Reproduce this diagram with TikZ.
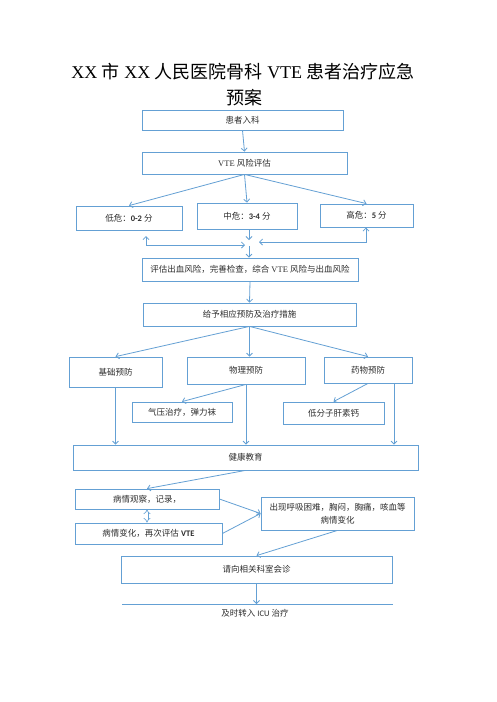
\documentclass[tikz,border=0pt]{standalone}
\usepackage{fontspec}
\setmainfont{Liberation Serif}
\newfontfamily\cjk{Noto Sans CJK SC}
\newfontfamily\calf{Carlito}
\usetikzlibrary{arrows.meta}
\definecolor{ln}{RGB}{100,160,212}
\definecolor{tx}{RGB}{45,45,45}
\newcommand\zh[1]{{\cjk #1}}
\newcommand\sn[1]{{\calf\bfseries #1}}
\newcommand\sr[1]{{\calf #1}}
\begin{document}
\begin{tikzpicture}[x=1pt,y=-1pt,
  box/.style={draw=ln, line width=0.8pt, rectangle, inner sep=0pt, align=center,
    text=tx, font=\fontsize{8.5}{11}\selectfont},
  wh/.style 2 args={minimum width=#1pt, minimum height=#2pt},
  arr/.style={draw=ln, line width=0.8pt, -{Straight Barb[length=3pt,width=6pt]}},
  darr/.style={draw=ln, line width=0.8pt, {Straight Barb[length=3pt,width=6pt]}-{Straight Barb[length=3pt,width=6pt]}},
  ttl/.style={font=\fontsize{18}{22}\selectfont, text=black, inner sep=0pt}]
\useasboundingbox (0,0) rectangle (496,702);
\fill[white] (0,0) rectangle (496,702);
% title
\node[ttl] (t1) at (243,72) {XX \zh{市} XX \zh{人民医院骨科} VTE \zh{患者治疗应急}};
\node[ttl] (t2) at (244.5,97.5) {\zh{预案}};
% boxes
\node[box, wh={201}{20}] (A) at (242.5,120) {\zh{患者入科}};
\node[box, wh={205}{22}] (B) at (244.5,163) {VTE \zh{风险评估}};
\node[box, wh={106}{24}] (low) at (129,218) {\zh{低危：}\sn{0-2} \zh{分}};
\node[box, wh={100}{26}] (mid) at (247,216) {\zh{中危：}\sn{3-4} \zh{分}};
\node[box, wh={93}{23}] (high) at (366.5,215.5) {\zh{高危：}\sn{5} \zh{分}};
\node[box, wh={216}{23}] (C) at (250,269.5) {\zh{评估出血风险，完善检查，综合} VTE \zh{风险与出血风险}};
\node[box, wh={213}{23}] (D) at (249.5,314.5) {\zh{给予相应预防及治疗措施}};
\node[box, wh={93}{30}] (E) at (115.5,372) {\zh{基础预防}};
\node[box, wh={118}{27}] (F) at (246,370.5) {\zh{物理预防}};
\node[box, wh={88}{26}] (G) at (368,370) {\zh{药物预防}};
\node[box, wh={100}{20}] (H) at (182,412) {\zh{气压治疗，弹力袜}};
\node[box, wh={101}{22}] (I) at (333.5,413) {\zh{低分子肝素钙}};
\node[box, wh={345}{25}] (J) at (245.5,457.5) {\zh{健康教育}};
\node[box, wh={144}{20}] (K) at (147,499) {\zh{病情观察，记录，}};
\node[box, wh={147}{21}] (L) at (148.5,533.5) {\zh{病情变化，再次评估} \sn{VTE}};
\node[box, wh={153}{33}, font=\fontsize{8.5}{13}\selectfont] (M) at (337.5,513.5) {\zh{出现呼吸困难，胸闷，胸痛，咳血等}\\\zh{病情变化}};
\node[box, wh={271}{27}] (N) at (256.5,569.5) {\zh{请向相关科室会诊}};
\node[text=tx, font=\fontsize{8.5}{11}\selectfont, inner sep=0pt] (fin) at (255,613) {\zh{及时转入} \sr{ICU} \zh{治疗}};
% helper coordinates
\coordinate (m1) at (249,240);
\coordinate (l0) at (146,236);
\coordinate (l1) at (146,245);
\coordinate (l2) at (245,245);
\coordinate (r0) at (366,227.5);
\coordinate (r1) at (366,242);
\coordinate (r2) at (259,242);
\coordinate (c0) at (249,246);
\coordinate (g0) at (394,383);
\coordinate (f1) at (122,604);
\coordinate (f2) at (393,604);
% connectors
\draw[arr] (A.south) -- (B.north);
\draw[arr] (B.south) -- (low.north);
\draw[arr] (B.south) -- (mid.north);
\draw[arr] (B.south) -- (high.north);
\draw[arr] (m1 |- mid.south) -- (m1);
\draw[darr] (l0) -- (l1) -- (l2);
\draw[darr] (r0) -- (r1) -- (r2);
\draw[arr] (c0) -- (c0 |- C.north);
\draw[arr] (C.south) -- (D.north);
\draw[arr] (D.south) -- (E.north);
\draw[arr] (D.south) -- (D.south |- F.north);
\draw[arr] (D.south) -- (G.north);
\draw[arr] (F.south) -- (H.north);
\draw[arr] (G.south) -- (I.north);
\draw[arr] (E.south) -- (E.south |- J.north);
\draw[arr] (F.south) -- (F.south |- J.north);
\draw[arr] (g0) -- (g0 |- J.north);
\draw[arr] (J.south) -- (K.north);
\draw[draw=ln, line width=0.6pt, double=white, double distance=1.8pt, {Implies}-{Implies}] (K.south) -- (K.south |- L.north);
\draw[arr] (K.east) -- (M.west);
\draw[arr] (L.east) -- (M.west);
\draw[arr] (M.south) -- (N.north);
\draw[arr] (N.south) -- (N.south |- f1);
\draw[draw=ln, line width=0.8pt] (f1) -- (f2);
\end{tikzpicture}
\end{document}
